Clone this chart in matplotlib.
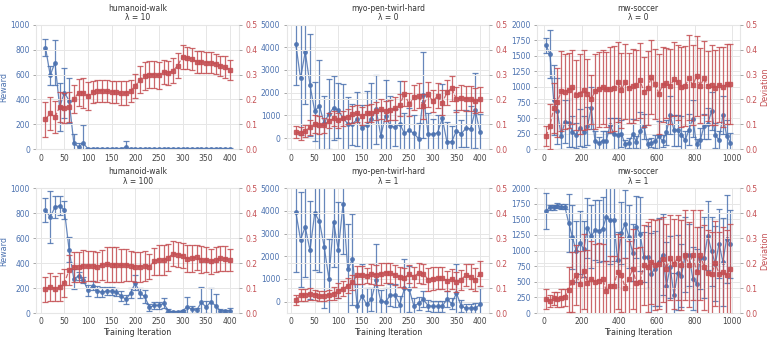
import matplotlib
matplotlib.use('Agg')
import matplotlib.pyplot as plt
import numpy as np
import seaborn as sns

# x axis (training iteration)
iters_400 = np.arange(10, 410, 10)
iters_1000 = np.arange(10, 1000, 20)

# humanoid-walk, lambda = 10
hw10_rew = [816, 593, 695, 340, 455, 390, 50, 20, 50, 4, 4, 4, 4, 4, 4, 4, 4, 20, 4, 4,
            4, 4, 4, 4, 4, 4, 4, 4, 4, 4, 4, 4, 4, 4, 4, 4, 4, 4, 4, 4]
hw10_rew_err = [65, 78, 178, 190, 200, 180, 70, 35, 145, 5, 5, 5, 5, 5, 5, 5, 5, 45, 5, 5,
                5, 5, 5, 5, 5, 5, 5, 5, 5, 5, 5, 5, 5, 5, 5, 5, 5, 5, 5, 5]
hw10_dev = [0.121, 0.144, 0.13, 0.17, 0.166, 0.17, 0.202, 0.227, 0.227, 0.214,
            0.23, 0.235, 0.235, 0.233, 0.231, 0.23, 0.225, 0.227, 0.234, 0.254,
            0.279, 0.295, 0.30, 0.30, 0.297, 0.311, 0.306, 0.315, 0.336, 0.372,
            0.366, 0.363, 0.351, 0.351, 0.348, 0.348, 0.343, 0.336, 0.33, 0.32]
hw10_dev_err = [0.07, 0.065, 0.065, 0.06, 0.06, 0.06, 0.055, 0.055, 0.06, 0.055,
                0.045, 0.045, 0.045, 0.045, 0.045, 0.045, 0.048, 0.048, 0.045, 0.05,
                0.055, 0.057, 0.055, 0.055, 0.055, 0.048, 0.048, 0.05, 0.05, 0.048,
                0.045, 0.045, 0.045, 0.045, 0.043, 0.043, 0.04, 0.04, 0.045, 0.04]

# myo-pen-twirl-hard, lambda = 0
myo0_rew = [4150, 2625, 3810, 2345, 1190, 1410, 660, 1070, 1335, 1220,
            880, 630, 615, 835, 440, 570, 835, 1260, 100, 980,
            540, 470, 630, 205, 340, 205, -30, 1890, 190, 160,
            235, 865, -175, -160, 320, 190, 425, 410, 1220, 250]
myo0_rew_err = [1800, 2500, 2300, 2250, 1300, 2050, 1200, 1550, 1400, 1200,
                1500, 1200, 900, 1200, 1000, 1500, 1600, 1500, 1100, 1600,
                1300, 800, 1900, 900, 1000, 800, 700, 1900, 900, 700,
                800, 1500, 900, 700, 900, 600, 800, 1000, 1650, 800]
myo0_dev = [0.070, 0.064, 0.073, 0.089, 0.101, 0.098, 0.097, 0.114, 0.124, 0.117,
            0.125, 0.130, 0.140, 0.144, 0.133, 0.144, 0.146, 0.153, 0.160, 0.154,
            0.158, 0.164, 0.178, 0.223, 0.180, 0.209, 0.214, 0.173, 0.221, 0.193,
            0.214, 0.186, 0.229, 0.245, 0.200, 0.206, 0.203, 0.203, 0.194, 0.200]
myo0_dev_err = [0.025, 0.025, 0.025, 0.03, 0.035, 0.035, 0.03, 0.03, 0.03, 0.03,
                0.03, 0.03, 0.035, 0.035, 0.035, 0.035, 0.035, 0.035, 0.04, 0.04,
                0.04, 0.045, 0.045, 0.05, 0.045, 0.05, 0.05, 0.05, 0.05, 0.045,
                0.05, 0.05, 0.05, 0.05, 0.05, 0.05, 0.05, 0.05, 0.05, 0.05]

# mw-soccer, lambda = 0
mw0_rew = [1665, 1532, 798, 612, 213, 447, 426, 282, 229, 351,
           282, 372, 665, 138, 96, 138, 138, 390, 255, 229,
           255, 85, 106, 240, 122, 293, 372, 85, 106, 128,
           213, 133, 277, 548, 309, 309, 234, 149, 319, 495,
           85, 149, 372, 415, 612, 229, 149, 548, 223, 106]
mw0_rew_err = [115, 385, 560, 530, 200, 350, 380, 250, 200, 300,
               250, 300, 330, 150, 100, 150, 150, 120, 250, 280,
               220, 70, 80, 250, 100, 300, 200, 80, 70, 100,
               250, 100, 200, 300, 250, 250, 300, 150, 250, 300,
               80, 200, 200, 250, 300, 200, 150, 300, 250, 150]
mw0_dev = [0.053, 0.093, 0.164, 0.188, 0.234, 0.231, 0.237, 0.25, 0.219, 0.223,
           0.239, 0.223, 0.2, 0.233, 0.241, 0.25, 0.241, 0.241, 0.245, 0.271,
           0.237, 0.271, 0.246, 0.254, 0.257, 0.277, 0.23, 0.246, 0.29, 0.263,
           0.223, 0.259, 0.265, 0.253, 0.282, 0.269, 0.25, 0.253, 0.287, 0.257,
           0.293, 0.255, 0.286, 0.255, 0.257, 0.247, 0.259, 0.25, 0.261, 0.263]
mw0_dev_err = [0.04, 0.09, 0.1, 0.14, 0.16, 0.15, 0.15, 0.15, 0.14, 0.16,
               0.16, 0.14, 0.1, 0.15, 0.15, 0.15, 0.15, 0.17, 0.17, 0.16,
               0.15, 0.15, 0.14, 0.15, 0.14, 0.15, 0.14, 0.15, 0.15, 0.14,
               0.16, 0.15, 0.14, 0.15, 0.15, 0.15, 0.16, 0.16, 0.17, 0.16,
               0.16, 0.15, 0.15, 0.14, 0.16, 0.15, 0.15, 0.16, 0.16, 0.16]

# humanoid-walk, lambda = 100
hw100_rew = [824, 769, 848, 859, 824, 505, 271, 298, 263, 181,
             218, 173, 168, 176, 176, 168, 138, 109, 160, 242,
             157, 133, 45, 61, 61, 77, 19, 8, 8, 16,
             50, 29, 24, 85, 48, 90, 59, 19, 16, 19]
hw100_rew_err = [95, 205, 90, 75, 75, 100, 80, 30, 25, 45,
                 35, 45, 40, 30, 30, 35, 40, 35, 40, 60,
                 40, 50, 25, 30, 30, 40, 10, 5, 5, 10,
                 80, 25, 20, 120, 50, 110, 95, 15, 10, 25]
hw100_dev = [0.096, 0.105, 0.098, 0.105, 0.121, 0.172, 0.184, 0.185, 0.188, 0.188,
             0.188, 0.184, 0.194, 0.195, 0.194, 0.193, 0.191, 0.193, 0.189, 0.184,
             0.186, 0.188, 0.186, 0.207, 0.214, 0.211, 0.222, 0.238, 0.234, 0.23,
             0.218, 0.219, 0.223, 0.214, 0.213, 0.207, 0.214, 0.219, 0.218, 0.213]
hw100_dev_err = [0.05, 0.055, 0.05, 0.055, 0.055, 0.06, 0.06, 0.06, 0.065, 0.06,
                 0.06, 0.06, 0.06, 0.07, 0.07, 0.07, 0.065, 0.065, 0.06, 0.06,
                 0.06, 0.06, 0.05, 0.055, 0.06, 0.06, 0.055, 0.05, 0.05, 0.05,
                 0.055, 0.055, 0.05, 0.055, 0.05, 0.05, 0.05, 0.05, 0.05, 0.045]

# myo-pen-twirl-hard, lambda = 1
myo1_rew = [3950, 2735, 3290, 2265, 3900, 3540, 2430, 1020, 3510, 2280,
            4300, 1420, 1870, -205, 250, -117, 100, 935, 15, -15,
            290, 280, -130, 585, 555, -190, -73, 100, -175, -205,
            -205, -205, 117, -88, 380, -190, -290, -280, -290, -117]
myo1_rew_err = [2650, 2100, 2200, 2150, 2500, 2250, 2700, 1750, 2000, 2100,
                2200, 2000, 2000, 1000, 1400, 700, 500, 1600, 500, 600,
                500, 500, 400, 1300, 1000, 350, 300, 350, 250, 250,
                250, 250, 350, 250, 1300, 250, 200, 200, 250, 700]
myo1_dev = [0.053, 0.072, 0.072, 0.077, 0.074, 0.068, 0.068, 0.073, 0.078, 0.089,
            0.097, 0.11, 0.124, 0.152, 0.153, 0.15, 0.157, 0.153, 0.157, 0.162,
            0.161, 0.153, 0.146, 0.142, 0.156, 0.146, 0.161, 0.158, 0.134, 0.138,
            0.141, 0.14, 0.13, 0.137, 0.126, 0.134, 0.152, 0.145, 0.134, 0.157]
myo1_dev_err = [0.02, 0.025, 0.025, 0.025, 0.02, 0.02, 0.02, 0.02, 0.025, 0.03,
                0.03, 0.03, 0.03, 0.035, 0.035, 0.03, 0.04, 0.04, 0.045, 0.04,
                0.04, 0.04, 0.04, 0.04, 0.035, 0.04, 0.04, 0.04, 0.045, 0.045,
                0.045, 0.045, 0.04, 0.04, 0.04, 0.04, 0.045, 0.05, 0.045, 0.05]

# mw-soccer, lambda = 1
mw1_rew = [1628, 1697, 1691, 1718, 1702, 1702, 1441, 1218, 989, 1128,
           1021, 1367, 1229, 1330, 1314, 1346, 1537, 1484, 1484, 851,
           1282, 1426, 1223, 968, 1378, 1266, 894, 894, 633, 713,
           819, 936, 436, 739, 287, 649, 601, 936, 926, 553,
           473, 883, 883, 1239, 989, 787, 1112, 819, 1186, 1106]
mw1_rew_err = [290, 40, 40, 40, 40, 40, 460, 520, 490, 500,
               450, 480, 500, 480, 500, 520, 700, 700, 650, 450,
               500, 550, 500, 450, 500, 600, 400, 500, 650, 600,
               700, 650, 700, 500, 350, 600, 500, 600, 500, 500,
               550, 500, 650, 550, 550, 600, 550, 700, 700, 550]
mw1_dev = [0.055, 0.049, 0.059, 0.055, 0.06, 0.063, 0.094, 0.126, 0.152, 0.118,
           0.168, 0.122, 0.138, 0.125, 0.13, 0.136, 0.09, 0.109, 0.108, 0.165,
           0.154, 0.101, 0.137, 0.176, 0.121, 0.125, 0.194, 0.184, 0.205, 0.194,
           0.197, 0.215, 0.178, 0.222, 0.195, 0.222, 0.194, 0.231, 0.194, 0.233,
           0.165, 0.234, 0.184, 0.161, 0.156, 0.2, 0.156, 0.166, 0.152, 0.178]
mw1_dev_err = [0.04, 0.025, 0.025, 0.03, 0.035, 0.035, 0.09, 0.12, 0.12, 0.13,
               0.15, 0.13, 0.15, 0.15, 0.15, 0.14, 0.12, 0.12, 0.12, 0.15,
               0.15, 0.12, 0.15, 0.16, 0.14, 0.14, 0.16, 0.18, 0.17, 0.18,
               0.18, 0.17, 0.18, 0.17, 0.18, 0.17, 0.18, 0.18, 0.17, 0.18,
               0.18, 0.18, 0.17, 0.17, 0.17, 0.17, 0.17, 0.18, 0.18, 0.18]

xticks_400 = [0, 50, 100, 150, 200, 250, 300, 350, 400]
xticks_1000 = [0, 200, 400, 600, 800, 1000]

BLUE = '#4c72b0'
RED = '#c44e52'
FS = 5.5

sns.set_style('whitegrid', {'grid.color': '#e6e6e6', 'axes.edgecolor': '#e6e6e6'})
plt.rcParams['font.family'] = ['DejaVu Sans']
plt.rcParams['grid.linewidth'] = 0.7


def draw_panel(ax, x, rew, rew_err, dev, dev_err, title, ylim, yticks, xticks,
               first_col, last_col, bottom_row):
    ax.errorbar(x, rew, yerr=rew_err, color=BLUE, marker='o', ms=2.5, lw=0.9,
                elinewidth=0.9, capsize=2, capthick=0.9, ecolor=BLUE, alpha=0.85)
    ax.set_ylim(ylim)
    ax.set_yticks(yticks)
    ax.set_xticks(xticks)
    ax.tick_params(axis='y', colors='#999999', labelcolor=BLUE, length=2.5,
                   width=0.6, left=True, labelsize=FS, pad=2)
    ax.tick_params(axis='x', length=0, labelsize=FS, labelcolor='#444444', pad=3)
    ax.set_title(title, fontsize=FS, color='#333333', pad=3, linespacing=1.1)
    if first_col:
        ax.set_ylabel('Reward', color=BLUE, fontsize=FS + 0.3, labelpad=2)
    if bottom_row:
        ax.set_xlabel('Training Iteration', color='#333333', fontsize=FS + 0.3, labelpad=1)

    ax2 = ax.twinx()
    ax2.errorbar(x, dev, yerr=dev_err, color=RED, marker='s', ms=2.5, lw=0.9,
                 ls='--', elinewidth=0.9, capsize=2, capthick=0.9, ecolor=RED, alpha=0.85)
    ax2.set_ylim(0, 0.5)
    ax2.set_yticks([0, 0.1, 0.2, 0.3, 0.4, 0.5])
    ax2.tick_params(axis='y', colors='#999999', labelcolor=RED, length=2.5,
                    width=0.6, right=True, labelsize=FS, pad=2)
    for s in ax2.spines.values():
        s.set_visible(False)
    if last_col:
        ax2.set_ylabel('Deviation', color=RED, fontsize=FS + 0.3, labelpad=2)
    return ax2


fig, axes = plt.subplots(2, 3, figsize=(7.72, 3.41), dpi=100)
fig.subplots_adjust(left=0.047, right=0.958, top=0.928, bottom=0.082,
                    wspace=0.235, hspace=0.31)

draw_panel(axes[0, 0], iters_400, hw10_rew, hw10_rew_err, hw10_dev, hw10_dev_err,
           'humanoid-walk\nλ = 10', (0, 1000), [0, 200, 400, 600, 800, 1000], xticks_400,
           True, False, False)
draw_panel(axes[0, 1], iters_400, myo0_rew, myo0_rew_err, myo0_dev, myo0_dev_err,
           'myo-pen-twirl-hard\nλ = 0', (-500, 5000), [0, 1000, 2000, 3000, 4000, 5000], xticks_400,
           False, False, False)
draw_panel(axes[0, 2], iters_1000, mw0_rew, mw0_rew_err, mw0_dev, mw0_dev_err,
           'mw-soccer\nλ = 0', (0, 2000), [0, 250, 500, 750, 1000, 1250, 1500, 1750, 2000], xticks_1000,
           False, True, False)
draw_panel(axes[1, 0], iters_400, hw100_rew, hw100_rew_err, hw100_dev, hw100_dev_err,
           'humanoid-walk\nλ = 100', (0, 1000), [0, 200, 400, 600, 800, 1000], xticks_400,
           True, False, True)
draw_panel(axes[1, 1], iters_400, myo1_rew, myo1_rew_err, myo1_dev, myo1_dev_err,
           'myo-pen-twirl-hard\nλ = 1', (-500, 5000), [0, 1000, 2000, 3000, 4000, 5000], xticks_400,
           False, False, True)
draw_panel(axes[1, 2], iters_1000, mw1_rew, mw1_rew_err, mw1_dev, mw1_dev_err,
           'mw-soccer\nλ = 1', (0, 2000), [0, 250, 500, 750, 1000, 1250, 1500, 1750, 2000], xticks_1000,
           False, True, True)

plt.savefig('out.png', dpi=100)
